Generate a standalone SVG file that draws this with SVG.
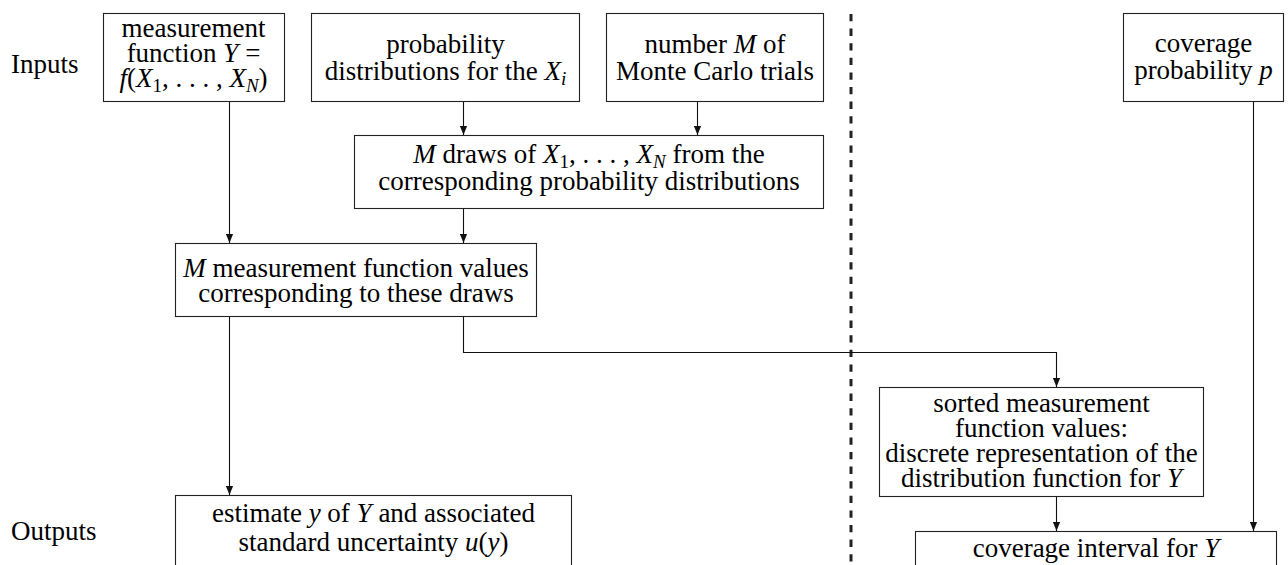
<svg xmlns="http://www.w3.org/2000/svg" width="1288" height="565" viewBox="0 0 1288 565">
<style>
text{font-family:"Liberation Serif","Times New Roman",serif;font-size:27px;fill:#000;text-anchor:middle}
.lbl{text-anchor:start}
.m{font-style:italic}
.s{font-size:19px}
.box{fill:#fff;stroke:#222;stroke-width:1.1}
.c{fill:none;stroke:#111;stroke-width:1.1}
.sep{fill:none;stroke:#222;stroke-width:3;stroke-dasharray:7.3 7.3}
</style>
<defs>
<marker id="ah" markerUnits="userSpaceOnUse" markerWidth="9" markerHeight="8" refX="9" refY="4" orient="auto">
<path d="M0,0.4 L9,4 L0,7.6 z" fill="#111"/>
</marker>
</defs>
<rect width="1288" height="565" fill="#fff"/>
<text class="lbl" x="11" y="73">Inputs</text>
<text class="lbl" x="11" y="540">Outputs</text>
<line class="sep" x1="851" y1="14" x2="851" y2="565"/>
<g id="connectors">
<line class="c" x1="229.5" y1="101" x2="229.5" y2="243" marker-end="url(#ah)"/>
<line class="c" x1="463.5" y1="101" x2="463.5" y2="135" marker-end="url(#ah)"/>
<line class="c" x1="697.5" y1="101" x2="697.5" y2="135" marker-end="url(#ah)"/>
<line class="c" x1="463.5" y1="208" x2="463.5" y2="243" marker-end="url(#ah)"/>
<line class="c" x1="229.5" y1="316" x2="229.5" y2="495" marker-end="url(#ah)"/>
<path class="c" d="M463.5,316 V352.5 H1056.5 V387" marker-end="url(#ah)"/>
<line class="c" x1="1056.5" y1="496" x2="1056.5" y2="531" marker-end="url(#ah)"/>
<line class="c" x1="1253.5" y1="101" x2="1253.5" y2="531" marker-end="url(#ah)"/>
</g>
<g id="n-measfunc">
<rect class="box" x="103.5" y="13.5" width="181" height="88"/>
<text x="193.5" y="37">measurement</text>
<text x="193.5" y="62">function <tspan class="m">Y</tspan> =</text>
<text x="193.5" y="87"><tspan class="m">f</tspan>(<tspan class="m">X</tspan><tspan class="s" dy="5">1</tspan><tspan dy="-5">, . . . , </tspan><tspan class="m">X</tspan><tspan class="s m" dy="5">N</tspan><tspan dy="-5">)</tspan></text>
</g>
<g id="n-probdist">
<rect class="box" x="311.5" y="13.5" width="268" height="88"/>
<text x="445.5" y="53">probability</text>
<text x="445.5" y="80">distributions for the <tspan class="m">X</tspan><tspan class="s m" dy="5">i</tspan></text>
</g>
<g id="n-numM">
<rect class="box" x="606.5" y="13.5" width="217" height="88"/>
<text x="715" y="53">number <tspan class="m">M</tspan> of</text>
<text x="715" y="80">Monte Carlo trials</text>
</g>
<g id="n-covprob">
<rect class="box" x="1123.5" y="13.5" width="160" height="88"/>
<text x="1203.5" y="52">coverage</text>
<text x="1203.5" y="79">probability <tspan class="m">p</tspan></text>
</g>
<g id="n-draws">
<rect class="box" x="354.5" y="135.5" width="469" height="73"/>
<text x="589" y="163"><tspan class="m">M</tspan> draws of <tspan class="m">X</tspan><tspan class="s" dy="5">1</tspan><tspan dy="-5">, . . . , </tspan><tspan class="m">X</tspan><tspan class="s m" dy="5">N</tspan><tspan dy="-5"> from the</tspan></text>
<text x="589" y="190">corresponding probability distributions</text>
</g>
<g id="n-values">
<rect class="box" x="175.5" y="243.5" width="361" height="73"/>
<text x="356" y="277"><tspan class="m">M</tspan> measurement function values</text>
<text x="356" y="302">corresponding to these draws</text>
</g>
<g id="n-sorted">
<rect class="box" x="879.5" y="387.5" width="324" height="109"/>
<text x="1041.5" y="412">sorted measurement</text>
<text x="1041.5" y="437">function values:</text>
<text x="1041.5" y="462">discrete representation of the</text>
<text x="1041.5" y="487">distribution function for <tspan class="m">Y</tspan></text>
</g>
<g id="n-estimate">
<rect class="box" x="175.5" y="495.5" width="396" height="90"/>
<text x="373.5" y="522">estimate <tspan class="m">y</tspan> of <tspan class="m">Y</tspan> and associated</text>
<text x="373.5" y="551">standard uncertainty <tspan class="m">u</tspan>(<tspan class="m">y</tspan>)</text>
</g>
<g id="n-covint">
<rect class="box" x="915.5" y="531.5" width="361" height="60"/>
<text x="1096" y="557">coverage interval for <tspan class="m">Y</tspan></text>
</g>
</svg>
